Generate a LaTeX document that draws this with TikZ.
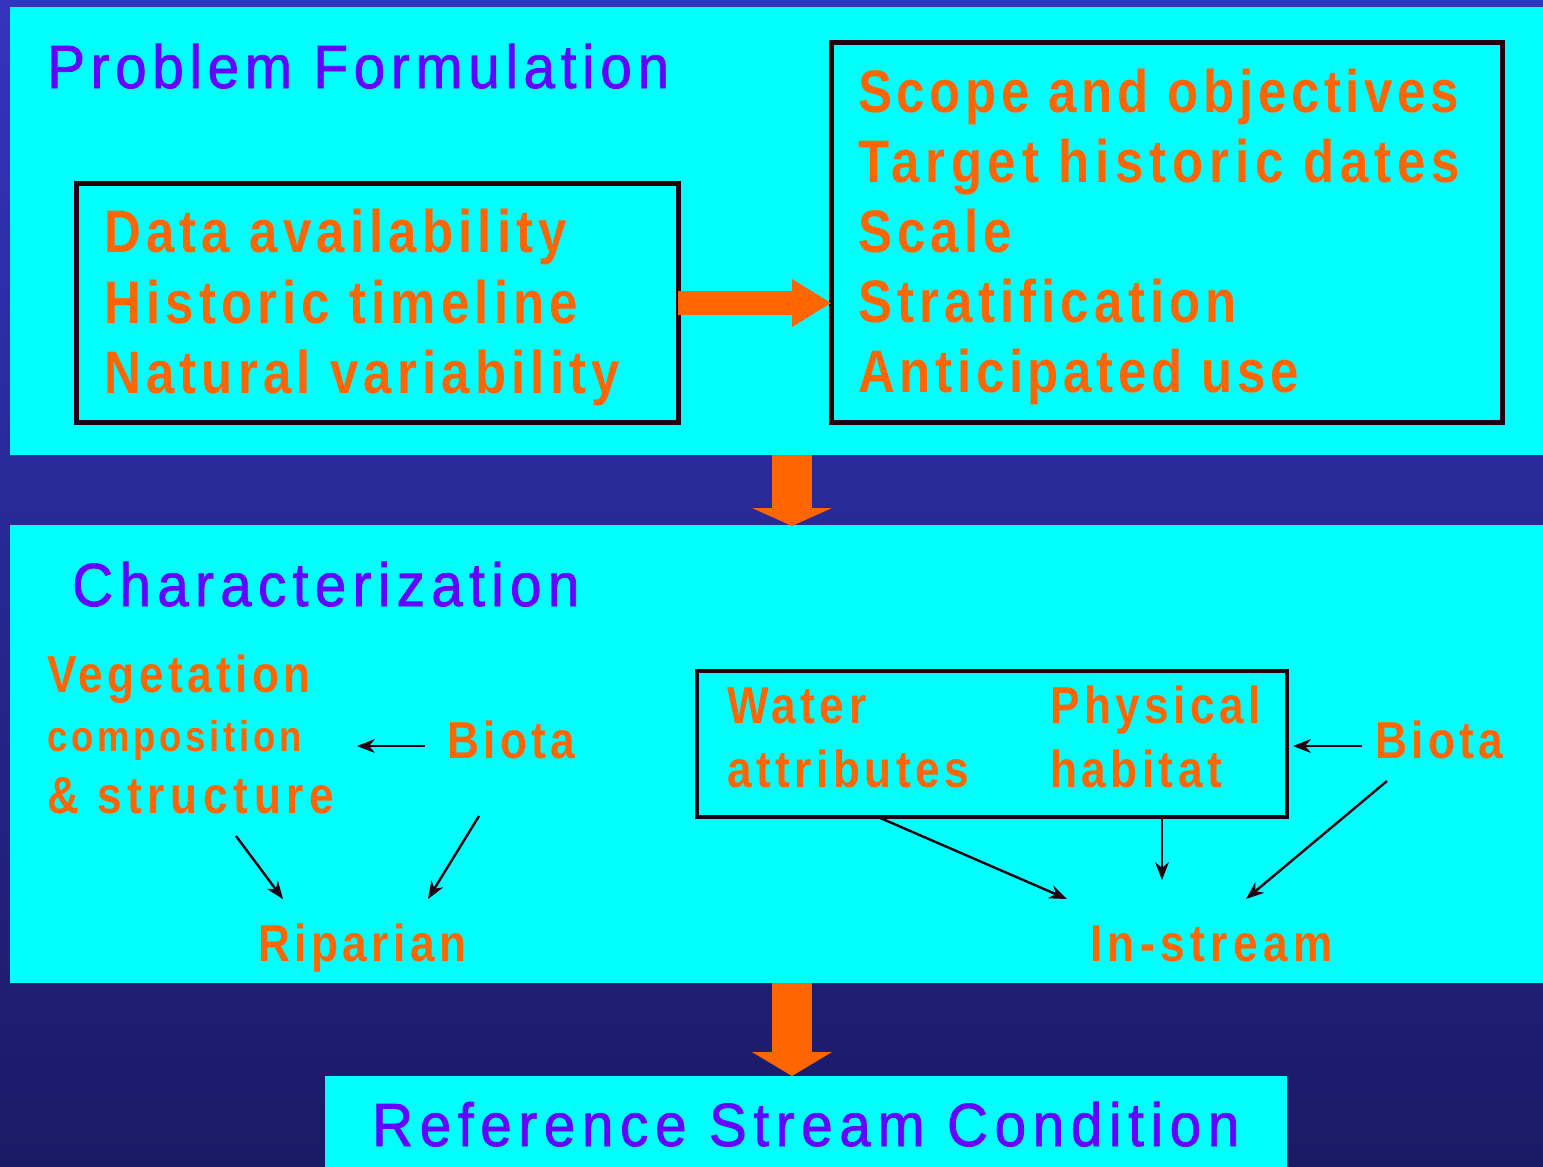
\documentclass[tikz,border=0pt]{standalone}
\usepackage{fontspec}
\usetikzlibrary{arrows.meta,calc}
\newfontfamily\regfont[FakeStretch=0.93,LetterSpace=9.2,FakeBold=1.2]{Liberation Sans}
\newfontfamily\ofont[FakeStretch=0.85,LetterSpace=8.6]{Liberation Sans}
\definecolor{cyanc}{RGB}{0,255,255}
\definecolor{purp}{RGB}{102,0,255}
\definecolor{orng}{RGB}{255,102,0}
\definecolor{frm}{RGB}{32,0,16}
\definecolor{bgtop}{RGB}{52,52,190}
\definecolor{bgmid}{RGB}{36,36,146}
\definecolor{bgbot}{RGB}{26,26,102}
\tikzset{
  ttl/.style={anchor=base west, inner sep=0pt, text=purp, font=\regfont\fontsize{61}{61}\selectfont},
  otxt/.style={anchor=base west, inner sep=0pt, text=orng, font=\ofont\bfseries\fontsize{60}{60}\selectfont},
  osmall/.style={anchor=base west, inner sep=0pt, text=orng, font=\ofont\bfseries\fontsize{52}{52}\selectfont},
  ocomp/.style={anchor=base west, inner sep=0pt, text=orng, font=\ofont\bfseries\fontsize{43}{43}\selectfont},
  panel/.style={fill=cyanc, draw=none, inner sep=0pt, outer sep=0pt, anchor=north west},
  frame/.style={draw=frm, line width=5pt, inner sep=0pt, outer sep=0pt, anchor=north west},
  link/.style={draw=frm, line width=2.4pt, -{Stealth[length=18pt,width=14pt,line width=0pt]}},
}
\begin{document}
\begin{tikzpicture}[x=1pt,y=-1pt]
\useasboundingbox (0,0) rectangle (1543,1167);
\fill[top color=bgtop, middle color=bgmid, bottom color=bgbot] (0,0) rectangle (1543,1167);

% panels
\node[panel, minimum width=1533pt, minimum height=448pt] (p1) at (10,7) {};
\node[panel, minimum width=1533pt, minimum height=458pt] (p2) at (10,525) {};
\node[panel, minimum width=962pt, minimum height=91pt] (p3) at (325,1076) {};

% frames
\node[frame, minimum width=602pt, minimum height=239pt] (lbox) at (76,183) {};
\node[frame, minimum width=671pt, minimum height=380pt] (rbox) at (831,42) {};
\node[frame, line width=4pt, minimum width=590pt, minimum height=146pt] (cbox) at (697,671) {};

% helper coordinates
\coordinate (ax) at (792,0);
\coordinate (hy) at (0,303);

% fat orange arrows
\draw[orng, line width=24pt, -{Triangle[width=48pt,length=39pt,line width=0pt]}]
  (lbox.east |- hy) -- (rbox.west |- hy);
\draw[orng, line width=40pt, -{Triangle[width=80pt,length=18pt,line width=0pt]}]
  (p1.south -| ax) -- ($(p2.north -| ax)+(0,1)$);
\draw[orng, line width=40pt, -{Triangle[width=80pt,length=24pt,line width=0pt]}]
  (p2.south -| ax) -- (p3.north -| ax);

% titles
\node[ttl] (pf) at (47,88) {Problem Formulation};
\node[ttl] (ch) at (72,606) {\addfontfeature{LetterSpace=10.3}Characterization};
\node[ttl] (rsc) at (372,1146) {\addfontfeature{LetterSpace=10.8}Reference Stream Condition};

% left box text
\node[otxt] (l1) at (104,252) {Data availability};
\node[otxt] (l2) at (104,323) {Historic timeline};
\node[otxt] (l3) at (104,393) {Natural variability};

% right box text
\node[otxt] (r1) at (858,112) {\addfontfeature{LetterSpace=7.8}Scope and objectives};
\node[otxt] (r2) at (858,182) {\addfontfeature{LetterSpace=9.6}Target historic dates};
\node[otxt] (r3) at (858,252) {Scale};
\node[otxt] (r4) at (858,322) {Stratification};
\node[otxt] (r5) at (858,392) {\addfontfeature{LetterSpace=7.8}Anticipated use};

% characterization left
\node[osmall] (veg) at (47,692) {Vegetation};
\node[ocomp] (comp) at (47,751) {composition};
\node[osmall] (struc) at (47,813) {\addfontfeature{LetterSpace=11}\& structure};
\node[osmall] (bioL) at (447,758) {Biota};
\node[osmall] (rip) at (258,961) {Riparian};

% characterization right
\node[osmall] (wat) at (727,723) {Water};
\node[osmall] (attr) at (727,787) {attributes};
\node[osmall] (phys) at (1050,723) {Physical};
\node[osmall] (hab) at (1050,787) {habitat};
\node[osmall] (bioR) at (1375,758) {Biota};
\node[osmall] (ins) at (1090,961) {\addfontfeature{LetterSpace=10.5}In-stream};

% thin connectors
\coordinate (bLs) at (425,746);
\coordinate (bLe) at (357,746);
\coordinate (vs) at (236,836);
\coordinate (ve) at (283,899);
\coordinate (bLd) at (479,816);
\coordinate (re) at (428,899);
\coordinate (cw) at ($(cbox.south west)+(181,0)$);
\coordinate (iw) at (1067,899);
\coordinate (cm) at ($(cbox.south west)+(465,0)$);
\coordinate (im) at (1162,880);
\coordinate (bRs) at (1362,746);
\coordinate (bRe) at (1293,746);
\coordinate (bRd) at (1387,781);
\coordinate (ie) at (1246,899);

\draw[link] (bLs) -- (bLe);
\draw[link] (vs) -- (ve);
\draw[link] (bLd) -- (re);
\draw[link] (cw) -- (iw);
\draw[link] (cm) -- (im);
\draw[link] (bRs) -- (bRe);
\draw[link] (bRd) -- (ie);
\end{tikzpicture}
\end{document}
